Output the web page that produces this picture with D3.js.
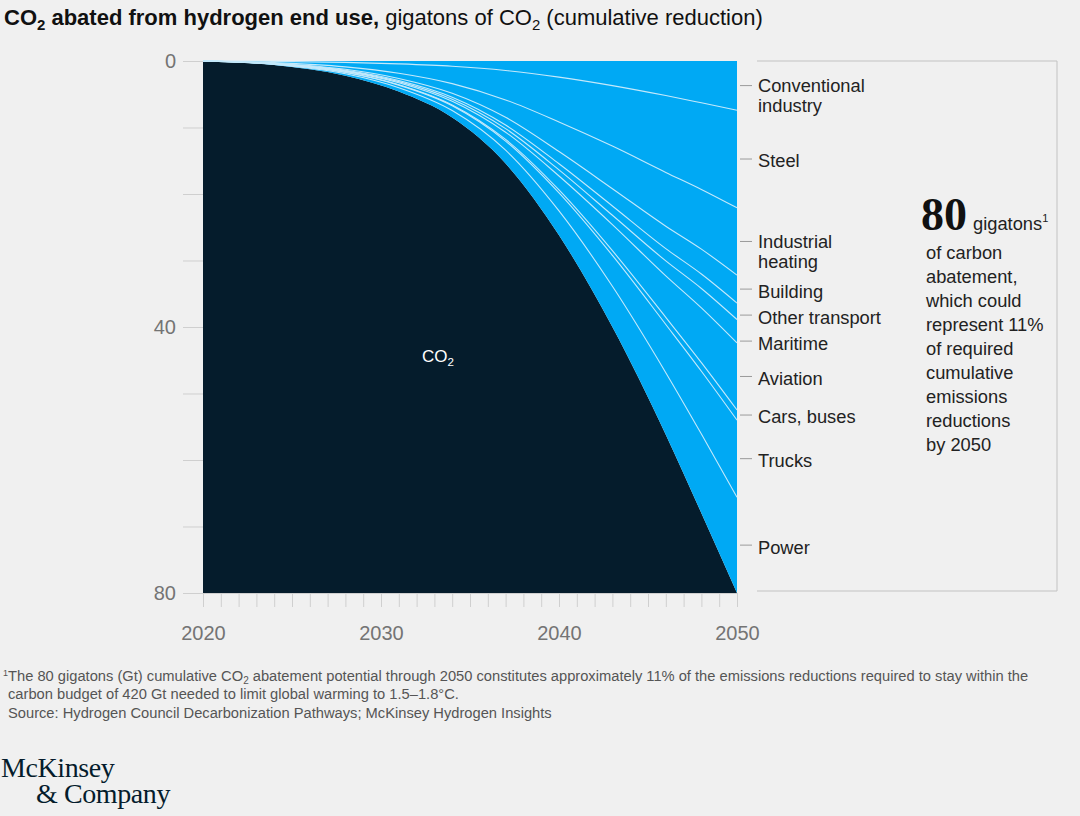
<!DOCTYPE html>
<html>
<head>
<meta charset="utf-8">
<script src="https://cdn.jsdelivr.net/npm/d3@7"></script>
<style>
  body { margin: 0; background: #f0f0f0; }
  svg { display: block; font-family: "Liberation Sans", Arial, sans-serif; }
</style>
</head>
<body>
<svg id="chart" width="1080" height="816"></svg>
<script>
// data: cumulative abatement per end use, Gt CO2
const years = [2020, 2024, 2028, 2031, 2034, 2037, 2040, 2043, 2046, 2048, 2050];
const sectors = ["Conventional industry", "Steel", "Industrial heating", "Building",
                 "Other transport", "Maritime", "Aviation", "Cars, buses", "Trucks", "Power"];
const sectorLines = [["Conventional", "industry"], ["Steel"], ["Industrial", "heating"], ["Building"],
                     ["Other transport"], ["Maritime"], ["Aviation"], ["Cars, buses"], ["Trucks"], ["Power"]];

const conventionalIndustry = [0, 0.06, 0.20, 0.43, 0.79, 1.42, 2.42, 3.70, 5.20, 6.29, 7.40];
const steel                = [0, 0.18, 0.68, 1.41, 2.61, 4.43, 6.75, 9.10, 11.55, 13.02, 14.68];
const industrialHeating    = [0, 0.10, 0.37, 0.78, 1.45, 2.62, 4.45, 6.40, 8.09, 8.98, 10.12];
const building             = [0, 0.04, 0.15, 0.32, 0.60, 1.16, 1.83, 2.60, 3.37, 3.74, 4.20];
const otherTransport       = [0, 0.02, 0.08, 0.16, 0.30, 0.54, 0.92, 1.40, 1.85, 2.18, 2.48];
const maritime             = [0, 0.02, 0.08, 0.16, 0.30, 0.54, 0.92, 1.40, 2.25, 2.92, 3.52];
const aviation             = [0, 0.04, 0.14, 0.30, 0.55, 1.08, 2.10, 3.92, 6.24, 8.23, 10.08];
const carsBuses            = [0, 0.01, 0.03, 0.07, 0.13, 0.25, 0.45, 0.72, 1.07, 1.29, 1.52];
const trucks               = [0, 0.05, 0.19, 0.39, 0.72, 1.37, 2.70, 4.64, 7.25, 9.45, 11.60];
const power                = [0, 0.08, 0.28, 0.58, 1.06, 2.00, 3.67, 6.12, 9.33, 11.90, 14.40];

const seriesValues = [conventionalIndustry, steel, industrialHeating, building, otherTransport,
                      maritime, aviation, carsBuses, trucks, power];

const yTicks = [0, 10, 20, 30, 40, 50, 60, 70, 80];
const yLabels = [0, 40, 80];
const xLabels = [2020, 2030, 2040, 2050];

const sideLines = ["of carbon", "abatement,", "which could", "represent 11%", "of required",
                   "cumulative", "emissions", "reductions", "by 2050"];

const BLUE = "#00a9f4";
const NAVY = "#051c2c";

const svg = d3.select("#chart");

// helper: "CO" + subscript 2, then the text that follows it
function co2(sel, size, after) {
  sel.append("tspan").text("CO");
  sel.append("tspan").attr("font-size", size * 0.68).attr("dy", size * 0.22).text("2");
  return sel.append("tspan").attr("dy", -size * 0.22).text(after);
}

// title
const title = svg.append("text").attr("x", 4).attr("y", 25)
  .attr("font-size", 22).attr("fill", "#111");
const tb = title.append("tspan").attr("font-weight", "bold");
co2(tb, 22, " abated from hydrogen end use,");
title.append("tspan").text(" gigatons of ");
co2(title, 22, " (cumulative reduction)");

// plot
const plotLeft = 203, plotTop = 61, plotW = 534, plotH = 532;
const x = d3.scaleLinear().domain([2020, 2050]).range([plotLeft, plotLeft + plotW]);
const y = d3.scaleLinear().domain([0, 80]).range([plotTop, plotTop + plotH]);

const rows = years.map((yr, i) => {
  const r = { year: yr };
  sectors.forEach((s, j) => r[s] = seriesValues[j][i]);
  return r;
});
const stacked = d3.stack().keys(sectors)(rows);
const totalSeries = stacked[stacked.length - 1];

const curve = d3.curveMonotoneX;

// dark remainder (below the total curve)
svg.append("path")
  .datum(totalSeries)
  .attr("fill", NAVY)
  .attr("d", d3.area().curve(curve)
    .x(d => x(d.data.year))
    .y0(y(80))
    .y1(d => y(d[1])));

// blue abatement area
svg.append("path")
  .datum(totalSeries)
  .attr("fill", BLUE)
  .attr("d", d3.area().curve(curve)
    .x(d => x(d.data.year))
    .y0(y(0))
    .y1(d => y(d[1])));

// boundaries between end uses
svg.append("g")
  .selectAll("path")
  .data(stacked.slice(0, -1))
  .join("path")
    .attr("fill", "none")
    .attr("stroke", "#c4e9fb")
    .attr("stroke-width", 1.1)
    .attr("d", d3.line().curve(curve)
      .x(d => x(d.data.year))
      .y(d => y(d[1])));

// CO2 label inside dark area
const inner = svg.append("text").attr("x", 438).attr("y", 362)
  .attr("text-anchor", "middle").attr("font-size", 17).attr("fill", "#fff");
co2(inner, 17, "");

// y axis
const yAxis = svg.append("g")
  .attr("transform", `translate(${plotLeft},0)`)
  .call(d3.axisLeft(y).tickValues(yTicks).tickSize(20).tickPadding(7)
    .tickFormat(d => yLabels.includes(d) ? d : ""));
yAxis.select(".domain").remove();
yAxis.selectAll("line").attr("stroke", "#cfcfcf");
yAxis.selectAll("text").attr("font-size", 20).attr("fill", "#747474")
  .attr("font-family", "'Liberation Sans', Arial, sans-serif");

// x axis
const xAxis = svg.append("g")
  .attr("transform", `translate(0,${plotTop + plotH})`)
  .call(d3.axisBottom(x).tickValues(d3.range(2020, 2051)).tickSize(14).tickSizeOuter(0).tickPadding(19)
    .tickFormat(d => xLabels.includes(d) ? d : ""));
xAxis.select(".domain").attr("stroke", "#cfcfcf");
xAxis.selectAll("line").attr("stroke", "#cfcfcf");
xAxis.selectAll("text").attr("font-size", 20).attr("fill", "#747474")
  .attr("font-family", "'Liberation Sans', Arial, sans-serif");

// end-use labels at 2050, spaced so they do not overlap
const last = rows.length - 1;
const mids = stacked.map(s => y((s[last][0] + s[last][1]) / 2));
const pos = [];
mids.forEach((m, i) => {
  if (i === 0) { pos.push(m); return; }
  const gap = sectorLines[i - 1].length > 1 ? 44 : 26;
  pos.push(Math.max(m, pos[i - 1] + gap));
});

const labelG = svg.append("g");
sectors.forEach((s, i) => {
  labelG.append("line")
    .attr("x1", plotLeft + plotW + 3).attr("x2", plotLeft + plotW + 15)
    .attr("y1", pos[i]).attr("y2", pos[i])
    .attr("stroke", "#9a9a9a");
  const lines = sectorLines[i];
  const t = labelG.append("text")
    .attr("font-size", 18.3).attr("fill", "#222");
  lines.forEach((ln, k) => {
    const cy = lines.length > 1 ? pos[i] + k * 20 : pos[i] + 2;
    t.append("tspan").attr("x", plotLeft + plotW + 21).attr("y", cy).attr("dy", "0.35em").text(ln);
  });
});

// side box
const box = svg.append("g").attr("stroke", "#c2c2c2").attr("fill", "none");
box.append("line").attr("x1", 757).attr("x2", 1057).attr("y1", 61).attr("y2", 61);
box.append("line").attr("x1", 1057).attr("x2", 1057).attr("y1", 61).attr("y2", 591);
box.append("line").attr("x1", 757).attr("x2", 1057).attr("y1", 591).attr("y2", 591);

const big = svg.append("text").attr("x", 921).attr("y", 230).attr("fill", "#111");
big.append("tspan").attr("font-family", "'Liberation Serif', 'Times New Roman', serif")
  .attr("font-weight", "bold").attr("font-size", 46).text("80");
big.append("tspan").attr("font-size", 18.3).attr("fill", "#222").attr("dx", 6).text("gigatons");
big.append("tspan").attr("font-size", 11).attr("fill", "#222").attr("dy", -8).text("1");

svg.append("g")
  .selectAll("text")
  .data(sideLines)
  .join("text")
    .attr("x", 926)
    .attr("y", (d, i) => 259 + i * 24)
    .attr("font-size", 18.3)
    .attr("fill", "#222")
    .text(d => d);

// footnotes
const foot = svg.append("g").attr("font-size", 14.7).attr("fill", "#555");
const f1 = foot.append("text").attr("x", 3).attr("y", 681);
f1.append("tspan").attr("font-size", 9).attr("dy", -5).text("1");
f1.append("tspan").attr("dy", 5).text("The 80 gigatons (Gt) cumulative ");
co2(f1, 14.7, " abatement potential through 2050 constitutes approximately 11% of the emissions reductions required to stay within the");
foot.append("text").attr("x", 8).attr("y", 699)
  .text("carbon budget of 420 Gt needed to limit global warming to 1.5–1.8°C.");
foot.append("text").attr("x", 8).attr("y", 718)
  .text("Source: Hydrogen Council Decarbonization Pathways; McKinsey Hydrogen Insights");

// logo
const logo = svg.append("text")
  .attr("font-family", "'Liberation Serif', 'Times New Roman', serif")
  .attr("font-size", 28).attr("fill", "#051c2c").attr("letter-spacing", -0.4);
logo.append("tspan").attr("x", 1).attr("y", 777).text("McKinsey");
logo.append("tspan").attr("x", 36).attr("y", 803).text("& Company");
</script>
</body>
</html>
